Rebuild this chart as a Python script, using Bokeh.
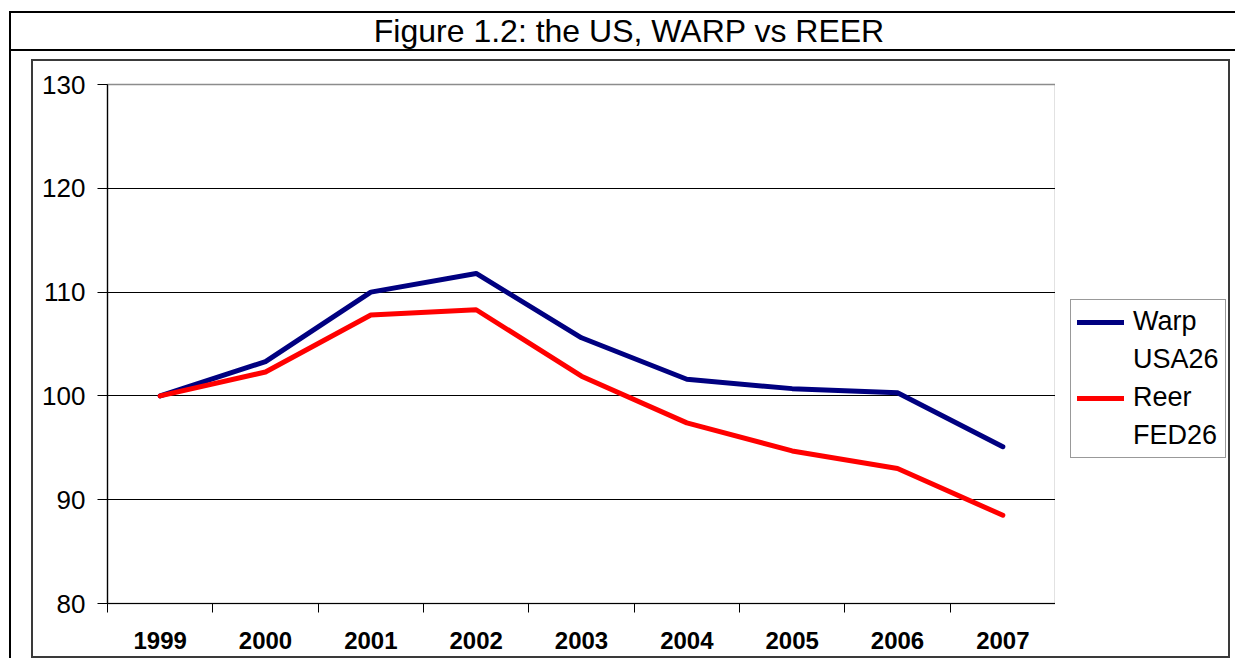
from bokeh.plotting import figure
from bokeh.models import Div, Legend, LegendItem, Range1d, FixedTicker
from bokeh.layouts import column, row
from bokeh.embed import file_html
from bokeh.resources import INLINE

# ---- data ----
years = ["1999", "2000", "2001", "2002", "2003", "2004", "2005", "2006", "2007"]
warp = [100.0, 103.3, 110.0, 111.8, 105.6, 101.6, 100.7, 100.3, 95.1]
reer = [100.0, 102.3, 107.8, 108.3, 101.9, 97.4, 94.7, 93.0, 88.5]
y_ticks = [80, 90, 100, 110, 120, 130]
title_text = "Figure 1.2: the US, WARP vs REER"
warp_label = ["Warp", "USA26"]
reer_label = ["Reer", "FED26"]

FONT = "Liberation Sans"
BLUE = "#000080"
RED = "#ff0000"
BOX = "2px solid #3a3a3a"

xs = [i + 0.5 for i in range(len(years))]
bounds = list(range(len(years) + 1))

# ---- main chart ----
p = figure(width=1024, height=599,
           x_range=Range1d(0, len(years)), y_range=Range1d(y_ticks[0], y_ticks[-1]),
           output_backend="svg", toolbar_location=None,
           min_border_left=74, min_border_top=23, min_border_right=2, min_border_bottom=57,
           margin=0,
           styles={"border-top": BOX, "border-left": BOX, "border-bottom": BOX})

p.outline_line_color = "#8c8c8c"
p.outline_line_width = 1.5

p.yaxis.ticker = FixedTicker(ticks=y_ticks)
p.yaxis.axis_line_color = "black"
p.yaxis.axis_line_width = 1.2
p.yaxis.major_tick_out = 10
p.yaxis.major_tick_in = 0
p.yaxis.major_tick_line_color = "black"
p.yaxis.minor_tick_line_color = None
p.yaxis.major_label_text_font = FONT
p.yaxis.major_label_text_font_size = "26px"
p.yaxis.major_label_text_color = "black"
p.yaxis.major_label_standoff = 12

p.xaxis.ticker = FixedTicker(ticks=xs, minor_ticks=bounds)
p.xaxis.major_label_overrides = {x: y for x, y in zip(xs, years)}
p.xaxis.axis_line_color = "black"
p.xaxis.axis_line_width = 1.2
p.xaxis.major_tick_line_color = None
p.xaxis.major_tick_out = 0
p.xaxis.major_tick_in = 0
p.xaxis.minor_tick_line_color = "black"
p.xaxis.minor_tick_out = 9
p.xaxis.minor_tick_in = 0
p.xaxis.major_label_text_font = FONT
p.xaxis.major_label_text_font_size = "24px"
p.xaxis.major_label_text_font_style = "bold"
p.xaxis.major_label_text_color = "black"
p.xaxis.major_label_standoff = 19

p.xgrid.grid_line_color = None
p.ygrid.ticker = FixedTicker(ticks=y_ticks[1:-1])
p.ygrid.grid_line_color = "black"
p.ygrid.grid_line_width = 1

p.line(xs, warp, line_color=BLUE, line_width=5, line_join="round", line_cap="round")
p.line(xs, reer, line_color=RED, line_width=5, line_join="round", line_cap="round")

# ---- legend panel (series drawn out of view, only their legend glyphs show) ----
q = figure(width=175, height=599, output_backend="svg", toolbar_location=None,
           x_range=Range1d(-20, -10), y_range=Range1d(y_ticks[0], y_ticks[-1]),
           x_axis_location=None, y_axis_location=None,
           min_border=0, margin=0,
           styles={"border-top": BOX, "border-right": BOX, "border-bottom": BOX})
q.grid.visible = False
q.outline_line_color = None
lw = q.line(xs, warp, line_color=BLUE, line_width=5, line_cap="round")
lr = q.line(xs, reer, line_color=RED, line_width=5, line_cap="round")
lb = q.line(xs, warp, line_alpha=0)

legend = Legend(items=[
    LegendItem(label=warp_label[0], renderers=[lw]),
    LegendItem(label=warp_label[1], renderers=[lb]),
    LegendItem(label=reer_label[0], renderers=[lr]),
    LegendItem(label=reer_label[1], renderers=[lb]),
], location=(15, 145))
legend.margin = 0
legend.padding = 6
legend.spacing = 7
legend.glyph_width = 47
legend.glyph_height = 30
legend.label_height = 30
legend.label_standoff = 9
legend.label_text_font = FONT
legend.label_text_font_size = "27px"
legend.label_text_color = "black"
legend.border_line_color = "#333333"
legend.border_line_width = 1.2
legend.background_fill_color = "white"
legend.background_fill_alpha = 1
q.add_layout(legend)

chart = row(p, q, margin=(8, 0, 0, 20), spacing=0)

title_div = Div(
    text=('<div style="display:block;box-sizing:border-box;width:1224px;'
          'font-family:\'Liberation Sans\',Arial,sans-serif;font-size:32px;'
          'color:black;text-align:center;line-height:36px;padding-left:12px;white-space:nowrap">'
          + title_text + '</div>'),
    width=1224, height=38, margin=0,
    styles={"border-bottom": "2px solid black"})

layout = column(title_div, chart, margin=(11, 0, 0, 9), spacing=0,
                styles={"border-top": "2px solid black", "border-left": "2px solid black"})

open("out.html", "w").write(file_html(layout, INLINE))
